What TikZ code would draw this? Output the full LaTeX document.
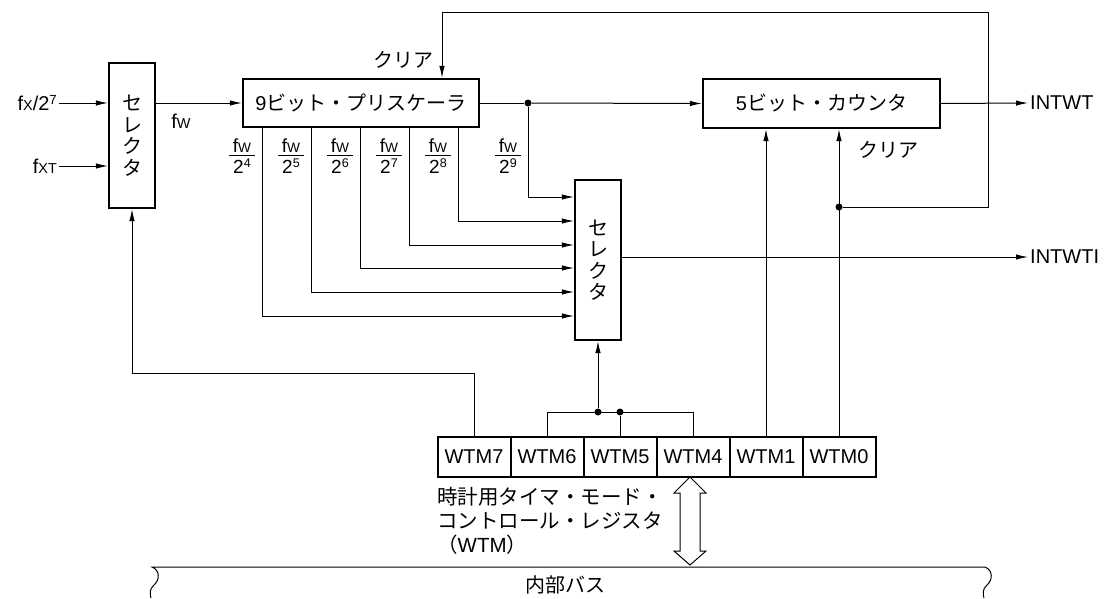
\documentclass[tikz,border=0pt]{standalone}
\usepackage{fontspec}
\setmainfont{Liberation Sans}
\newfontfamily\jp{Noto Sans CJK JP}
\usepackage{tikz}
\usetikzlibrary{arrows.meta,positioning}

\newcommand\smallcap[1]{\scalebox{0.72}{#1}}
\newcommand\smallsup[1]{\raisebox{0.3em}{\scalebox{0.66}{#1}}}
\newcommand\fwfrac[1]{\vbox{\hbox to 26pt{\hss f\smallcap{W}\hss}\kern3pt
		\hrule height 1pt\kern3pt\hbox to 26pt{\hss 2\smallsup{#1}\hss}}}

\begin{document}
\begin{tikzpicture}[
				x=1pt, y=-1pt,
				every node/.style={font=\fontsize{20}{24}\selectfont},
				box/.style={
					draw=black,
					line width=2.2pt,
					inner sep=0pt
				},
				sel/.style={
					box,
					minimum width=46pt,
					align=center,
					font=\jp\fontsize{20}{21.5}\selectfont
				},
				cell/.style={
					draw=black,
					line width=2pt,
					outer sep=0pt,
					inner sep=0pt,
					minimum width=73pt,
					minimum height=40pt
				},
				arrow/.style={
					-{Latex[length=12pt,width=5.5pt]},
					line width=1pt
				},
				wire/.style={line width=1pt},
				dot/.style={circle,fill=black,inner sep=0pt,minimum size=7pt},
				frac/.style={font=\fontsize{19}{22}\selectfont, inner sep=0pt}
				]
				\useasboundingbox (0,0) rectangle (1109,598);
				
				\node[sel,minimum height=145pt] (sel1) at (132,135.5) {セ\\レ\\ク\\タ};
				\node[box,minimum width=236pt,minimum height=48pt] (pre) at (361,103)
				{9{\jp ビット・プリスケーラ}};
				\node[box,minimum width=237pt,minimum height=49pt] (cnt) at (821.5,103.5)
				{5{\jp ビット・カウンタ}};
				\node[sel,minimum height=160pt] (sel2) at (598,260) {セ\\レ\\ク\\タ};
				
				\node[cell] (wtm7) at (474,457) {WTM7};
				\node[cell,right=0pt of wtm7] (wtm6) {WTM6};
				\node[cell,right=0pt of wtm6] (wtm5) {WTM5};
				\node[cell,right=0pt of wtm5] (wtm4) {WTM4};
				\node[cell,right=0pt of wtm4] (wtm1) {WTM1};
				\node[cell,right=0pt of wtm1] (wtm0) {WTM0};
				
				\node[anchor=east,inner sep=2pt] (fx) at (59,103) {f\smallcap{X}/2\smallsup{7}};
				\node[anchor=east,inner sep=2pt] (fxt) at (59,166) {f\smallcap{XT}};
				\node (fw) at (181,121) {f\smallcap{W}};
				\node (clr1) at (403,60) {\jp クリア};
				\node (clr2) at (888,150) {\jp クリア};
				\node[anchor=west,inner sep=2pt] (intwt) at (1028,103) {INTWT};
				\node[anchor=west,inner sep=2pt] (intwti) at (1028,257) {INTWTI};
				\node[anchor=north west,align=left,inner sep=0pt,font=\fontsize{20.5}{24}\selectfont]
				(wtmdesc) at (437,487)
				{{\jp 時計用タイマ・モード・}\\{\jp コントロール・レジスタ}\\{\jp （}WTM{\jp ）}};
				\node (bus) at (565,585) {\jp 内部バス};
				
				\draw[arrow] (fx.east) -- (fx.east -| sel1.west);
				\draw[arrow] (fxt.east) -- (fxt.east -| sel1.west);
				\draw[arrow] (sel1.east |- pre.west) -- (pre.west);
				
				\node[dot] (d9) at (528,103) {};
				\draw[wire] (pre.east) -- (d9);
				\draw[arrow] (d9) -- (cnt.west);
				\draw[arrow] (cnt.east) -- (intwt.west);
				\draw[arrow] (d9) |- (sel2.west |- 0,197);
				\node[frac] (frac9) at (508,156) {\fwfrac{9}};
				
				\foreach \x/\y/\n in {262/316/4, 311/292/5, 360/268/6, 409/245/7, 458/221/8}{
					\draw[arrow] (pre.south -| \x,0) |- (sel2.west |- 0,\y);
					\node[frac] (frac\n) at (\x-20,156) {\fwfrac{\n}};
				}
				
				\draw[arrow] (sel2.east |- intwti.west) -- (intwti.west);
				
				\coordinate (preclr) at ([xshift=81pt]pre.north);
				\coordinate (loop) at (988,12);
				\node[dot] (dclr) at (wtm0.north |- 0,207) {};
				\draw[arrow] (wtm0.north) -- (wtm0.north |- cnt.south);
				\draw[arrow] (wtm1.north) -- (wtm1.north |- cnt.south);
				\draw[arrow] (dclr) -| (loop) -| (preclr);
				
				\draw[wire] (wtm6.north) |- (wtm4.north |- 0,412) -- (wtm4.north);
				\node[dot] (d5) at (wtm5.north |- 0,412) {};
				\draw[wire] (wtm5.north) -- (d5);
				\node[dot] (dsel) at (sel2.south |- 0,412) {};
				\draw[arrow] (dsel) -- (sel2.south);
				\draw[arrow] (wtm7.north) |- (sel1.south |- 0,373) -- (sel1.south);
				
				\coordinate (dtop) at (690,477);
				\coordinate (dbot) at (690,565);
				\draw[wire,fill=white] (dtop) -- ++(16,16) -- ++(-6,0) -- ++(0,58) -- ++(6,0)
				-- (dbot) -- ++(-16,-14) -- ++(6,0) -- ++(0,-58) -- ++(-6,0) -- cycle;
				
				\draw[wire] (151,598) .. controls (150,595) and (149,589) .. (154,585)
				.. controls (160,580) and (160,570) .. (152,567) -- (985,567)
				.. controls (993,570) and (993,580) .. (987,585)
				.. controls (982,589) and (983,595) .. (984,598);
			\end{tikzpicture}
\end{document}
